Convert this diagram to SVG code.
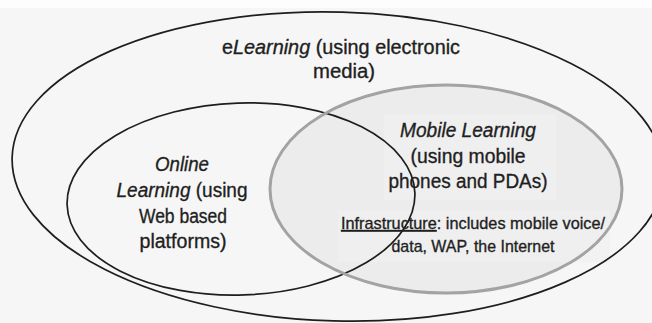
<svg xmlns="http://www.w3.org/2000/svg" width="652" height="323" viewBox="0 0 652 323">
  <style>
    .txt { font-family: "Liberation Sans Narrow", "Liberation Sans", Arial, sans-serif; font-size: 20px; fill: #1f1f1f; stroke: #1f1f1f; stroke-width: 0.35; text-anchor: middle; }
    .small { font-size: 17px; }
    .it { font-style: italic; }
    .ul { text-decoration: underline; }
    .ring { fill: none; stroke: #1e1e1e; stroke-width: 1.7; }
    .mring { fill: none; stroke: #a3a3a3; stroke-width: 3; }
  </style>

  <!-- page background -->
  <rect x="0" y="0" width="652" height="323" fill="#f6f6f6"/>
  <rect x="0" y="0" width="652" height="8" fill="#fdfdfd"/>

  <!-- mobile learning area fill (drawn first so outlines stay visible) -->
  <ellipse cx="446" cy="189" rx="176" ry="104" fill="#ececec"/>
  <rect x="384" y="114" width="172" height="86" fill="#f1f1f1" opacity="0.7"/>
  <rect x="338" y="210" width="272" height="52" fill="#f1f1f1" opacity="0.7"/>

  <!-- outlines -->
  <g id="connectors">
    <ellipse id="elearning-ring" class="ring" cx="338" cy="166.5" rx="326" ry="154.5" transform="rotate(1.6 338 166.5)"/>
    <ellipse id="online-ring" class="ring" cx="241" cy="199" rx="174" ry="96" transform="rotate(-2 241 199)"/>
    <ellipse id="mobile-ring" class="mring" cx="446" cy="189" rx="176" ry="104"/>
  </g>

  <g id="elearning">
    <text class="txt" x="341" y="54" textLength="238" lengthAdjust="spacingAndGlyphs">e<tspan class="it">Learning</tspan> (using electronic</text>
    <text class="txt" x="344" y="78" textLength="62" lengthAdjust="spacingAndGlyphs">media)</text>
  </g>

  <g id="online">
    <text class="txt it" x="182" y="171" textLength="54" lengthAdjust="spacingAndGlyphs">Online</text>
    <text class="txt" x="182" y="197" textLength="131" lengthAdjust="spacingAndGlyphs"><tspan class="it">Learning</tspan> (using</text>
    <text class="txt" x="183" y="223" textLength="88" lengthAdjust="spacingAndGlyphs">Web based</text>
    <text class="txt" x="183" y="248" textLength="87" lengthAdjust="spacingAndGlyphs">platforms)</text>
  </g>

  <g id="mobile">
    <text class="txt it" x="468" y="137" textLength="136" lengthAdjust="spacingAndGlyphs">Mobile Learning</text>
    <text class="txt" x="468" y="162.5" textLength="115" lengthAdjust="spacingAndGlyphs">(using mobile</text>
    <text class="txt" x="468" y="188" textLength="159" lengthAdjust="spacingAndGlyphs">phones and PDAs)</text>
    <text class="txt small" x="473" y="229" textLength="264" lengthAdjust="spacingAndGlyphs"><tspan class="ul">Infrastructure</tspan>: includes mobile voice/</text>
    <text class="txt small" x="473" y="252" textLength="163" lengthAdjust="spacingAndGlyphs">data, WAP, the Internet</text>
  </g>
</svg>
